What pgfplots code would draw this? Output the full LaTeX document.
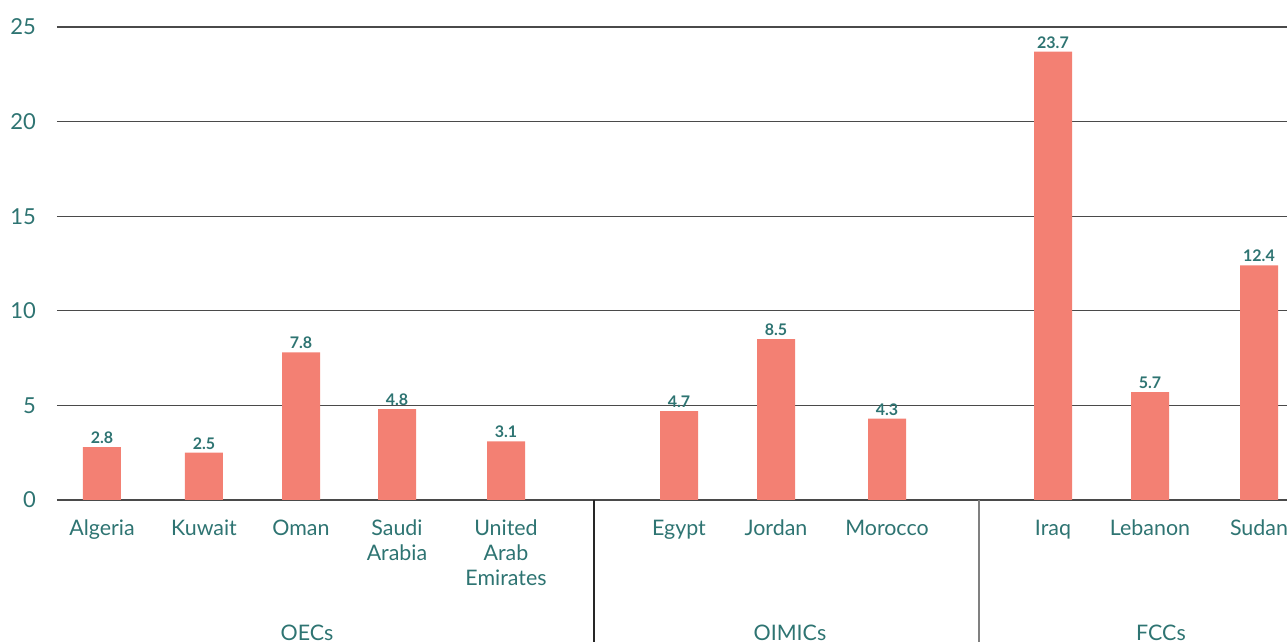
\documentclass[border=0pt]{standalone}
\usepackage{pgfplots}
\pgfplotsset{compat=1.18}
\usepackage{fontspec}
\setmainfont{Lato}
\definecolor{teal1}{HTML}{2E7472}
\definecolor{bar1}{HTML}{F38073}
\definecolor{grid1}{HTML}{4A4A4A}
\begin{document}
\begin{tikzpicture}
\clip (-28.5pt,-71pt) rectangle (615pt,250pt);
\begin{axis}[
  at={(0,0)}, anchor=south west,
  scale only axis, width=615pt, height=236.5pt,
  xmin=57, xmax=1287, ymin=0, ymax=25,
  axis line style={draw=none},
  ytick={0,5,10,15,20,25},
  ymajorgrids, grid style={grid1, line width=0.6pt},
  major tick length=0pt, tick style={draw=none},
  /pgf/number format/assume math mode=true,
  yticklabel style={font=\fontsize{11}{12}\selectfont, text=teal1, xshift=-7pt},
  xtick={102,204,301,397,506,679,776,887,1053,1150,1259},
  xticklabels={Algeria,Kuwait,Oman,{Saudi\\Arabia},{United\\Arab\\Emirates},Egypt,Jordan,Morocco,Iraq,Lebanon,Sudan},
  xticklabel style={font=\fontsize{10.7}{12.5}\selectfont, text=teal1, align=center, anchor=north, yshift=-6.5pt},
  clip=false,
]
\addplot[ybar, bar width=38, fill=bar1, draw=none,
  nodes near coords, every node near coord/.append style={font=\fontsize{8}{9}\selectfont\bfseries, text=teal1, inner sep=1.5pt}]
  coordinates {(102,2.8) (204,2.5) (301,7.8) (397,4.8) (506,3.1) (679,4.7) (776,8.5) (887,4.3) (1053,23.7) (1150,5.7) (1259,12.4)};
\draw[black!85, line width=0.6pt] (axis cs:594,0) -- (axis cs:594,-8);
\draw[gray, line width=0.8pt] (axis cs:979,0) -- (axis cs:979,-8);
\node[font=\fontsize{10.7}{12}\selectfont, text=teal1] at (axis cs:307,-7.0) {OECs};
\node[font=\fontsize{10.7}{12}\selectfont, text=teal1] at (axis cs:790,-7.0) {OIMICs};
\node[font=\fontsize{10.7}{12}\selectfont, text=teal1] at (axis cs:1161,-7.0) {FCCs};
\end{axis}
\end{tikzpicture}
\end{document}
